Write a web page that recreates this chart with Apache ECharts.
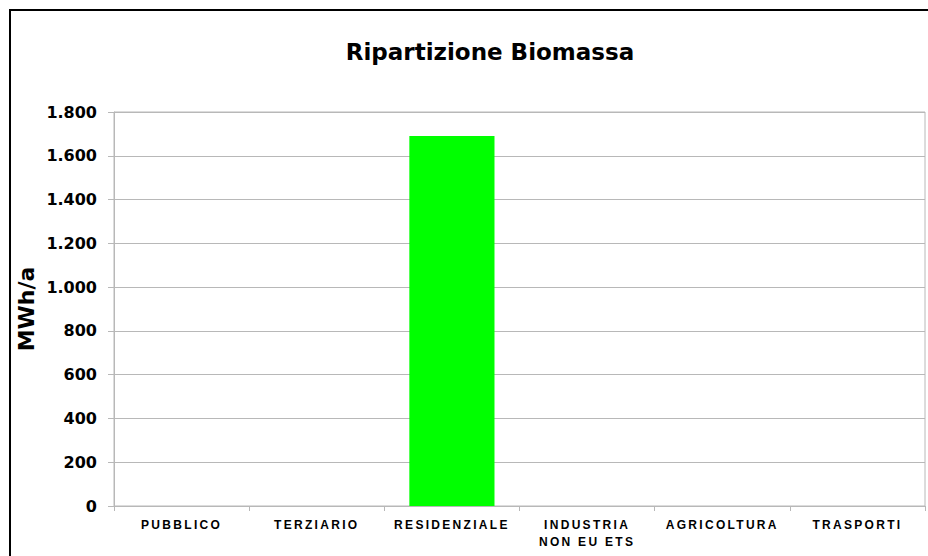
<!DOCTYPE html>
<html><head><meta charset="utf-8">
<script src="https://cdn.jsdelivr.net/npm/echarts@6/dist/echarts.min.js"></script>
<style>
html,body{margin:0;padding:0;background:#fff;overflow:hidden}
#frame{position:absolute;left:9px;top:9px;width:960px;height:600px;border:2px solid #000;box-sizing:border-box}
#chart{position:absolute;left:0;top:0;width:928px;height:556px}
#chart text[style*="12px"]{letter-spacing:2.3px}
</style></head>
<body>
<div id="frame"></div>
<div id="chart"></div>
<script>
const categories = ['PUBBLICO','TERZIARIO','RESIDENZIALE','INDUSTRIA\nNON EU ETS','AGRICOLTURA','TRASPORTI'];
const values = [0, 0, 1690, 0, 0, 0];
const yTicks = [0, 200, 400, 600, 800, 1000, 1200, 1400, 1600, 1800];

const chart = echarts.init(document.getElementById('chart'), null, {renderer:'svg'});
const fmt = v => String(v).replace(/\B(?=(\d{3})+(?!\d))/g, '.');
chart.setOption({
  animation:false,
  title:{text:'Ripartizione Biomassa', left:485, top:35, textAlign:'center',
    textStyle:{fontFamily:'DejaVu Sans, sans-serif', fontWeight:'bold', fontSize:23, color:'#000'}},
  grid:{left:114, right:3, top:112, bottom:50, show:true, borderColor:'#b8b8b8', borderWidth:1, backgroundColor:'transparent'},
  xAxis:{type:'category', data:categories,
    axisLine:{show:true, lineStyle:{color:'#b8b8b8', width:1}},
    axisTick:{show:true, alignWithLabel:false, length:5, lineStyle:{color:'#b8b8b8'}},
    axisLabel:{interval:0, margin:10, color:'#000', fontFamily:'Liberation Sans, Arial, sans-serif', fontWeight:'bold', fontSize:12, lineHeight:17}
  },
  yAxis:{type:'value', min:0, max:yTicks[yTicks.length-1], interval:200,
    name:'MWh/a', nameLocation:'middle', nameGap:77, nameRotate:90, nameMoveOverlap:false,
    nameTextStyle:{fontFamily:'DejaVu Sans, sans-serif', fontWeight:'bold', fontSize:22, color:'#000'},
    axisLine:{show:true, lineStyle:{color:'#b8b8b8', width:1}},
    axisTick:{show:true, length:6, lineStyle:{color:'#b8b8b8'}},
    splitLine:{show:true, lineStyle:{color:'#b8b8b8', width:1}},
    axisLabel:{margin:17, color:'#000', fontFamily:'DejaVu Sans, sans-serif', fontWeight:'bold', fontSize:16, formatter:v=>fmt(v)}
  },
  series:[{type:'bar', data:values, barWidth:'63%', itemStyle:{color:'#00ff00'}}]
});
</script>
</body></html>
